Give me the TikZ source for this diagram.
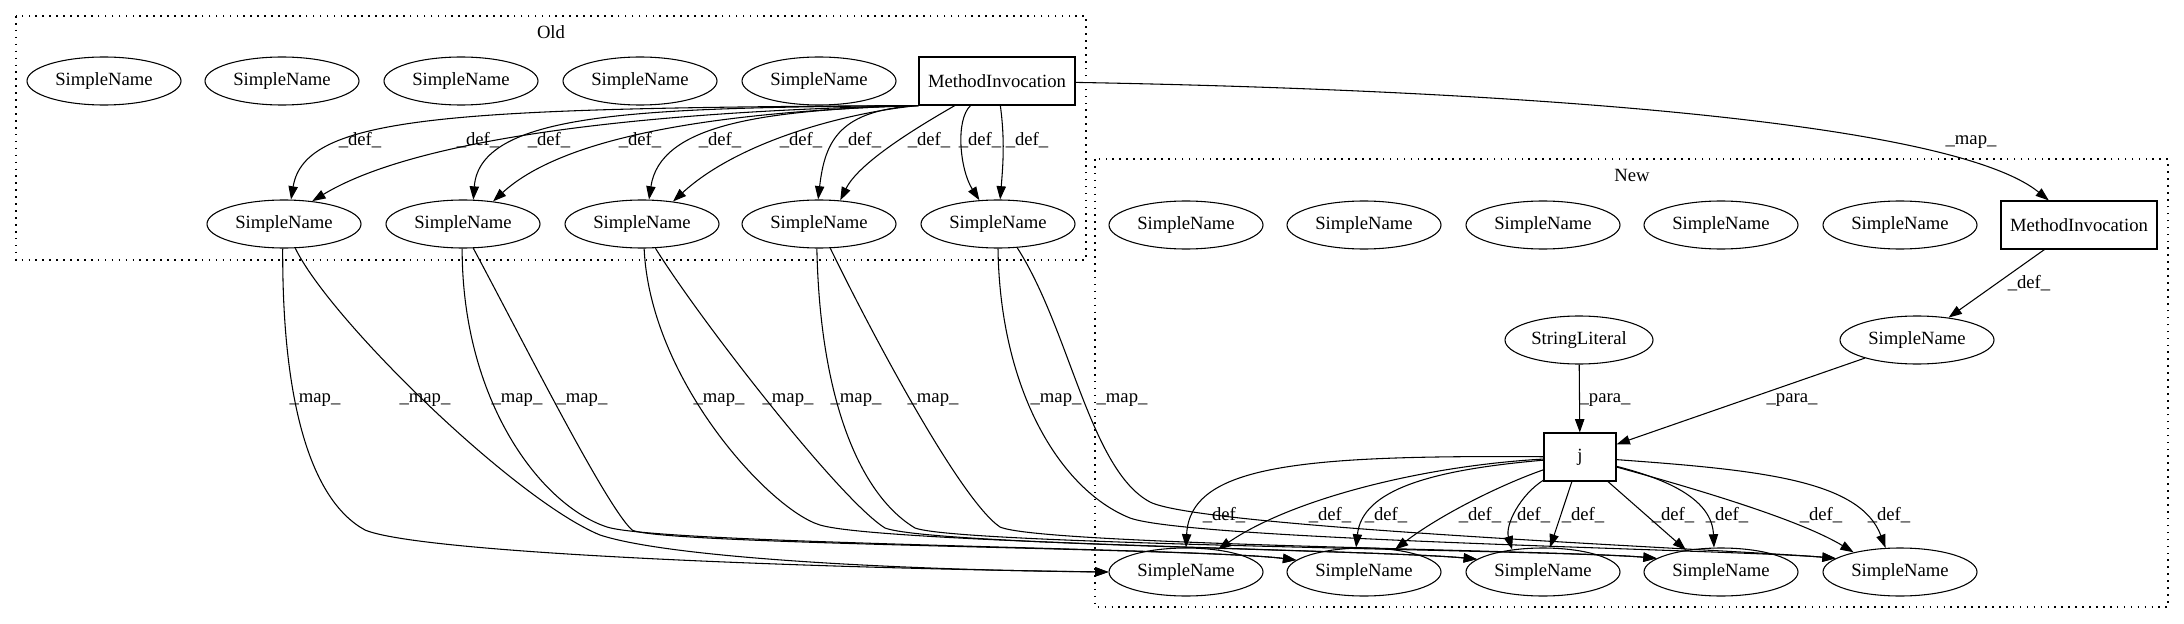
\documentclass[tikz,border=0pt]{standalone}
\usepackage{fontspec}
\setmainfont{Liberation Serif}
\usetikzlibrary{arrows.meta,shapes.geometric}

\begin{document}
\begin{tikzpicture}[x=0.75pt,y=-0.75pt,
  font=\rmfamily\fontsize{14pt}{16pt}\selectfont,
  elli/.style={draw,ellipse,line width=0.8pt,minimum width=115.5pt,minimum height=36pt,inner sep=0pt},
  recbox/.style={draw,rectangle,line width=0.8pt,minimum width=117pt,minimum height=36pt,inner sep=0pt},
  arr/.style={line width=0.8pt,-{Triangle[length=10pt,width=7pt]}},
  lbl/.style={inner sep=0pt},
  clus/.style={line width=0.8pt,dash pattern=on 1.2pt off 4pt}]
\useasboundingbox (0,0) rectangle (2184,624);

% clusters
\draw[clus] (16,16) rectangle (1086,260);
\node[lbl] (old) at (551,32) {Old};
\draw[clus] (1095,159) rectangle (2168,607);
\node[lbl] (new) at (1632,175) {New};

% old side
\foreach \x [count=\i] in {104,282,461,640,819}{
  \node[elli] (ot\i) at (\x,81) {SimpleName};
}
\node[recbox] (omi) at (997,81) {MethodInvocation};
\foreach \x [count=\i] in {284,463,642,819,998}{
  \node[elli] (ob\i) at (\x,224) {SimpleName};
}

% new side
\foreach \x [count=\i] in {1186,1364,1543,1721,1900}{
  \node[elli] (nt\i) at (\x,225) {SimpleName};
  \node[elli] (nb\i) at (\x,572) {SimpleName};
}
\node[recbox] (nmi) at (2079,225) {MethodInvocation};
\node[elli,minimum width=111pt] (nstr) at (1579,340) {StringLiteral};
\node[elli] (nsn) at (1917,340) {SimpleName};
\node[recbox,minimum width=54pt] (nj) at (1580,457) {j};

% old defs
\draw[arr] (omi.south west) .. controls (450,108) and (305,115) .. (ob1.74) node[lbl] at (360,140) {\_def\_};
\draw[arr] (omi.south west) .. controls (700,110) and (430,130) .. (ob1.39) node[lbl] at (478,140) {\_def\_};
\draw[arr] (omi.south west) .. controls (650,108) and (480,110) .. (ob2.67) node[lbl] at (549,140) {\_def\_};
\draw[arr] (omi.south west) .. controls (700,112) and (560,140) .. (ob2.37) node[lbl] at (640,140) {\_def\_};
\draw[arr] (omi.south west) .. controls (760,110) and (660,125) .. (ob3.74) node[lbl] at (720,140) {\_def\_};
\draw[arr] (omi.south west) .. controls (850,112) and (740,140) .. (ob3.36) node[lbl] at (801,140) {\_def\_};
\draw[arr] (omi.south west) .. controls (840,110) and (825,140) .. (ob4.92) node[lbl] at (860,140) {\_def\_};
\draw[arr] (omi) .. controls (930,120) and (860,160) .. (ob4.48) node[lbl] at (929,140) {\_def\_};
\draw[arr] (omi) .. controls (955,120) and (960,170) .. (ob5.128) node[lbl] at (980,140) {\_def\_};
\draw[arr] (omi) .. controls (1005,140) and (1003,165) .. (ob5.85) node[lbl] at (1027,140) {\_def\_};

% maps
\draw[arr] (omi) .. controls (1500,90) and (1950,120) .. (nmi) node[lbl] at (1971,142) {\_map\_};
\draw[arr] (ob1.-93) .. controls (282,400) and (310,500) .. (365,530) .. controls (420,553) and (800,568) .. (nb1.west) node[lbl] at (315,400) {\_map\_};
\draw[arr] (ob1.-65) .. controls (330,320) and (515,500) .. (600,535) .. controls (670,558) and (900,570) .. (nb1.west) node[lbl] at (425,400) {\_map\_};
\draw[arr] (ob2.-92) .. controls (462,400) and (540,505) .. (607,527) .. controls (660,544) and (1200,548) .. (nb2.170) node[lbl] at (517,400) {\_map\_};
\draw[arr] (ob2.-67) .. controls (520,335) and (605,505) .. (632,530) .. controls (660,545) and (1200,548) .. (nb2.170) node[lbl] at (582,400) {\_map\_};
\draw[arr] (ob3.-85) .. controls (650,380) and (770,510) .. (820,525) .. controls (880,543) and (1380,550) .. (nb3.169) node[lbl] at (719,400) {\_map\_};
\draw[arr] (ob3.-61) .. controls (700,320) and (840,500) .. (885,528) .. controls (930,545) and (1380,550) .. (nb3.169) node[lbl] at (788,400) {\_map\_};
\draw[arr] (ob4.-95) .. controls (820,400) and (860,495) .. (915,528) .. controls (960,545) and (1560,550) .. (nb4.168) node[lbl] at (856,400) {\_map\_};
\draw[arr] (ob4.-65) .. controls (870,330) and (960,500) .. (1000,527) .. controls (1040,545) and (1560,550) .. (nb4.168) node[lbl] at (933,400) {\_map\_};
\draw[arr] (ob5.-90) .. controls (1000,390) and (1060,490) .. (1130,518) .. controls (1190,540) and (1740,550) .. (nb5.168) node[lbl] at (1056,400) {\_map\_};
\draw[arr] (ob5.-51) .. controls (1070,330) and (1090,470) .. (1150,502) .. controls (1200,528) and (1740,550) .. (nb5.168) node[lbl] at (1122,400) {\_map\_};

% new defs and paras
\draw[arr] (nmi) -- (nsn) node[lbl] at (2029,283) {\_def\_};
\draw[arr] (nstr) -- (nj) node[lbl] at (1605,400) {\_para\_};
\draw[arr] (nsn) -- (nj) node[lbl] at (1792,400) {\_para\_};
\draw[arr] (nj) .. controls (1300,455) and (1190,465) .. (nb1.north) node[lbl] at (1224,515) {\_def\_};
\draw[arr] (nj) .. controls (1420,466) and (1290,500) .. (nb1.35) node[lbl] at (1330,515) {\_def\_};
\draw[arr] (nj) .. controls (1430,470) and (1362,490) .. (nb2.108) node[lbl] at (1386,515) {\_def\_};
\draw[arr] (nj) .. controls (1500,485) and (1440,515) .. (nb2.36) node[lbl] at (1480,515) {\_def\_};
\draw[arr] (nj) .. controls (1520,495) and (1505,525) .. (nb3.144) node[lbl] at (1529,515) {\_def\_};
\draw[arr] (nj) -- (nb3.74) node[lbl] at (1583,515) {\_def\_};
\draw[arr] (nj) -- (nb4.148) node[lbl] at (1673,515) {\_def\_};
\draw[arr] (nj) .. controls (1670,480) and (1712,500) .. (nb4.106) node[lbl] at (1727,515) {\_def\_};
\draw[arr] (nj) .. controls (1700,490) and (1800,520) .. (nb5.157) node[lbl] at (1821,515) {\_def\_};
\draw[arr] (nj) .. controls (1760,470) and (1860,480) .. (nb5.121) node[lbl] at (1889,515) {\_def\_};
\end{tikzpicture}
\end{document}
